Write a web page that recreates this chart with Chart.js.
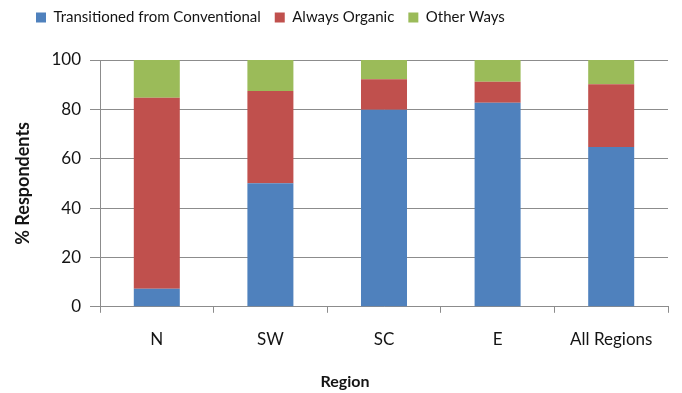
<!DOCTYPE html>
<html lang="en">
<head>
    <meta charset="UTF-8">
    <title>Respondents by Region</title>
    <script src="https://cdn.jsdelivr.net/npm/chart.js"></script>
    <style>
        body { margin: 0; background: #fff; }
    </style>
</head>
<body>
<canvas id="myChart" width="682" height="393"></canvas>
<script>
    const regions = ["N", "SW", "SC", "E", "All Regions"];
    const transitioned = [7.3, 50.1, 79.8, 82.7, 64.7];
    const alwaysOrganic = [77.4, 37.3, 12.4, 8.5, 25.5];
    const otherWays = [15.3, 12.6, 7.8, 8.8, 9.8];
    const yTicks = [0, 20, 40, 60, 80, 100];

    const fontFamily = "Lato, 'Noto Sans', sans-serif";
    const textColor = "#141414";
    const gridGray = "#8c8c8c";

    new Chart(document.getElementById("myChart"), {
        type: 'bar',
        data: {
            labels: regions,
            datasets: [
                { label: "Transitioned from Conventional", data: transitioned, backgroundColor: "#4F81BD" },
                { label: "Always Organic", data: alwaysOrganic, backgroundColor: "#C0504D" },
                { label: "Other Ways", data: otherWays, backgroundColor: "#9BBB59" }
            ]
        },
        options: {
            responsive: false,
            animation: false,
            datasets: {
                bar: { barPercentage: 0.405, categoryPercentage: 1 }
            },
            layout: { padding: { left: 22, right: 14, top: -4, bottom: 0 } },
            plugins: {
                tooltip: { enabled: false },
                legend: {
                    position: 'top',
                    align: 'start',
                    labels: {
                        color: textColor,
                        font: { family: fontFamily, size: 15 },
                        boxWidth: 10,
                        boxHeight: 10,
                        padding: 14
                    }
                },
                // empty subtitle just keeps some room between legend and plot
                subtitle: {
                    display: true,
                    text: '',
                    weight: 500,
                    font: { size: 10 },
                    padding: { top: 6, bottom: 7 }
                },
                // axis title for the x axis, centred on the whole canvas
                title: {
                    display: true,
                    text: "Region",
                    position: 'bottom',
                    color: textColor,
                    font: { family: fontFamily, size: 16, weight: 'bold' },
                    padding: { top: 4, bottom: 2 }
                }
            },
            scales: {
                x: {
                    stacked: true,
                    afterFit: (scale) => { scale.height = 61; },
                    grid: { display: true, drawOnChartArea: false, drawTicks: true, tickLength: 6, color: gridGray, offset: true },
                    border: { display: true, color: gridGray },
                    ticks: { color: textColor, font: { family: fontFamily, size: 17 }, padding: 17 }
                },
                y: {
                    stacked: true,
                    min: 0,
                    max: 100,
                    afterFit: (scale) => { scale.width = 78; },
                    afterBuildTicks: (scale) => { scale.ticks = yTicks.map(v => ({ value: v })); },
                    grid: { color: gridGray, tickLength: 10 },
                    border: { display: true, color: gridGray },
                    ticks: { color: textColor, font: { family: fontFamily, size: 17 }, padding: 9 },
                    title: { display: true, text: "% Respondents", color: textColor, font: { family: fontFamily, size: 18, weight: 'bold' }, padding: { top: -10, bottom: 0 } }
                }
            }
        }
    });
</script>
</body>
</html>
